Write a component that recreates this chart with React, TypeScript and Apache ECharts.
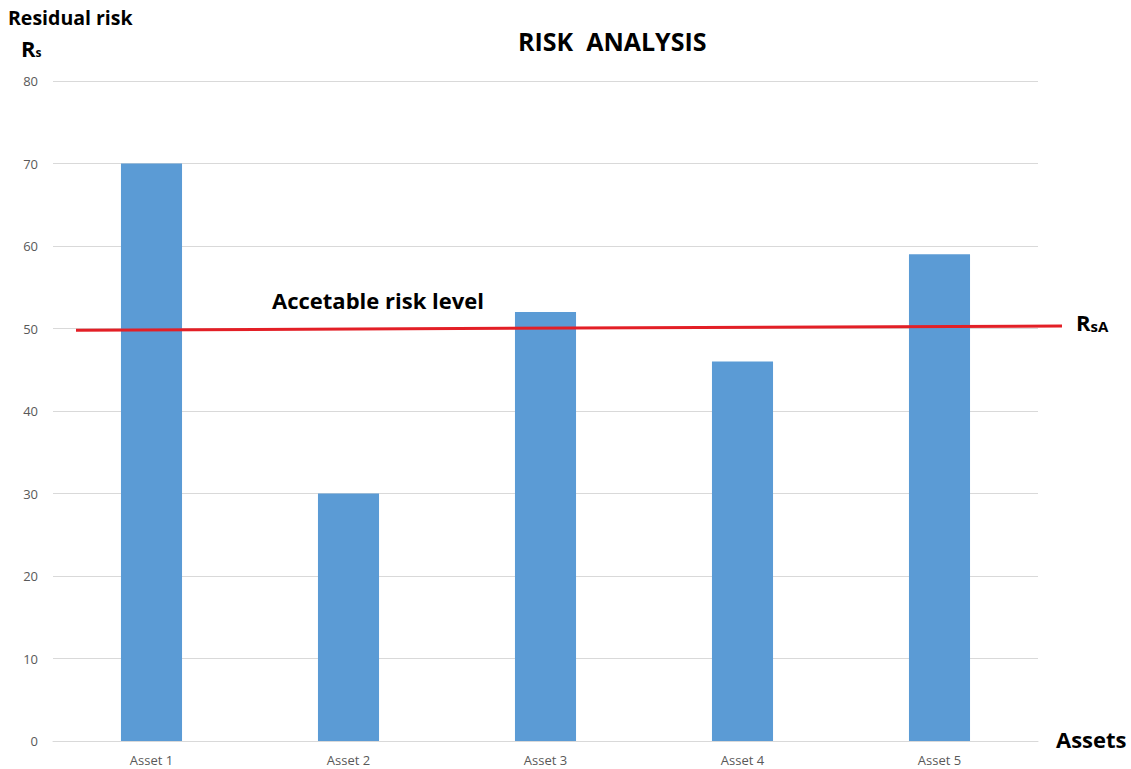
import React, { useEffect, useRef } from "react";
import * as echarts from "echarts";

const categories = ["Asset 1", "Asset 2", "Asset 3", "Asset 4", "Asset 5"];
const residualRisk = [70, 30, 52, 46, 59];
const acceptableStart = 49.8;
const acceptableEnd = 50.3;
const yTicks = { min: 0, max: 80, interval: 10 };

const FONT = "'Open Sans', 'Liberation Sans', sans-serif";

export default function App() {
  const ref = useRef<HTMLDivElement>(null);
  useEffect(() => {
    if (!ref.current) return;
    const chart = echarts.init(ref.current, undefined, { renderer: "svg" });
    chart.setOption({
      animation: false,
      backgroundColor: "#ffffff",
      textStyle: { fontFamily: FONT },
      title: {
        text: "RISK  ANALYSIS",
        left: 513,
        top: 23,
        textStyle: { fontFamily: FONT, fontWeight: "bold", fontSize: 25, color: "#000" },
      },
      grid: { left: 53, right: 93, top: 81, bottom: 28, containLabel: false },
      xAxis: {
        type: "category",
        data: categories,
        axisLine: { lineStyle: { color: "#d9d9d9", width: 1 } },
        axisTick: { show: false },
        axisLabel: { color: "#595959", fontSize: 13, margin: 12, fontFamily: FONT },
      },
      yAxis: {
        type: "value",
        min: yTicks.min,
        max: yTicks.max,
        interval: yTicks.interval,
        axisLine: { show: false },
        axisTick: { show: false },
        axisLabel: { color: "#595959", fontSize: 13, margin: 15, fontFamily: FONT },
        splitLine: { lineStyle: { color: "#d9d9d9", width: 1 } },
      },
      series: [
        {
          type: "bar",
          data: residualRisk,
          barWidth: "31%",
          itemStyle: { color: "#5b9bd5" },
          markLine: {
            silent: true,
            symbol: ["none", "none"],
            label: { show: false },
            lineStyle: { color: "#e31f26", width: 3, type: "solid" },
            data: [[{ x: 76, yAxis: acceptableStart }, { x: 1062, yAxis: acceptableEnd }]],
          },
        },
      ],
      graphic: [
        {
          type: "text",
          left: 8,
          top: 7,
          style: { text: "Residual risk", fontFamily: FONT, fontWeight: "bold", fontSize: 19.5, fill: "#000" },
        },
        {
          type: "text",
          left: 21,
          top: 37,
          style: {
            text: "{r|R}{s|s}",
            rich: {
              r: { fontFamily: FONT, fontWeight: "bold", fontSize: 22, fill: "#000", verticalAlign: "bottom" },
              s: { fontFamily: FONT, fontWeight: "bold", fontSize: 12, fill: "#000", verticalAlign: "bottom", padding: [0, 0, 1, 0] },
            },
          },
        },
        {
          type: "text",
          left: 272,
          top: 289,
          style: { text: "Accetable risk level", fontFamily: FONT, fontWeight: "bold", fontSize: 22, fill: "#000" },
        },
        {
          type: "text",
          left: 1076,
          top: 311,
          style: {
            text: "{r|R}{s|sA}",
            rich: {
              r: { fontFamily: FONT, fontWeight: "bold", fontSize: 22, fill: "#000", verticalAlign: "bottom" },
              s: { fontFamily: FONT, fontWeight: "bold", fontSize: 15, fill: "#000", verticalAlign: "bottom" },
            },
          },
        },
        {
          type: "text",
          left: 1056,
          top: 728,
          style: { text: "Assets", fontFamily: FONT, fontWeight: "bold", fontSize: 22, fill: "#000" },
        },
      ],
    });
    return () => chart.dispose();
  }, []);
  return (
    <div
      ref={ref}
      style={{ position: "fixed", left: 0, top: 0, width: 1131, height: 769, background: "#fff" }}
    />
  );
}
